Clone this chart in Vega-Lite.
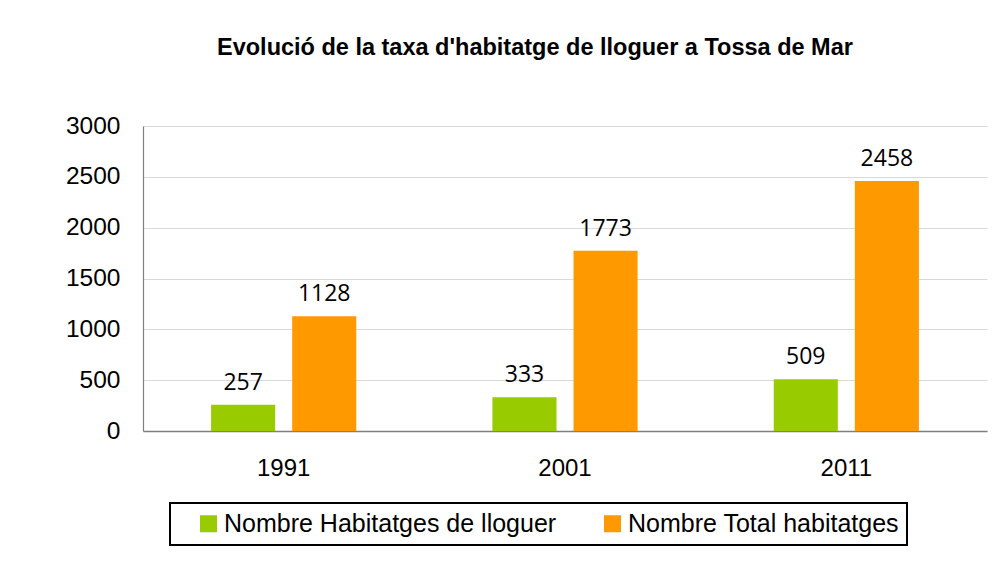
{
  "$schema": "https://vega.github.io/schema/vega-lite/v6.json",
  "autosize": {"type": "none"},
  "padding": {"left": 143, "top": 126, "right": 15, "bottom": 138},
  "width": 844,
  "height": 305,
  "background": "white",
  "title": {
    "text": "Evolució de la taxa d'habitatge de lloguer a Tossa de Mar",
    "font": "Liberation Sans",
    "fontSize": 23.5,
    "fontWeight": "bold",
    "color": "black",
    "anchor": "start",
    "frame": "group",
    "dx": 74,
    "offset": 54
  },
  "config": {
    "view": {"stroke": null},
    "legend": {"strokeColor": "black", "strokeWidth": 2, "fillColor": "white", "padding": 8}
  },
  "data": {
    "values": [
      {"year": "1991", "serie": "Nombre Habitatges de lloguer", "valor": 257},
      {"year": "1991", "serie": "Nombre Total habitatges", "valor": 1128},
      {"year": "2001", "serie": "Nombre Habitatges de lloguer", "valor": 333},
      {"year": "2001", "serie": "Nombre Total habitatges", "valor": 1773},
      {"year": "2011", "serie": "Nombre Habitatges de lloguer", "valor": 509},
      {"year": "2011", "serie": "Nombre Total habitatges", "valor": 2458}
    ]
  },
  "encoding": {
    "x": {
      "field": "year",
      "type": "nominal",
      "scale": {"paddingInner": 0.484, "paddingOuter": 0.242},
      "axis": {
        "title": null,
        "labelAngle": 0,
        "ticks": false,
        "labelPadding": 25,
        "labelFontSize": 24,
        "labelFont": "Liberation Sans",
        "labelColor": "black",
        "domainColor": "#7f7f7f",
        "domainWidth": 1.5
      }
    },
    "xOffset": {
      "field": "serie",
      "type": "nominal",
      "sort": ["Nombre Habitatges de lloguer", "Nombre Total habitatges"],
      "scale": {"paddingInner": 0.21, "paddingOuter": 0}
    },
    "y": {
      "field": "valor",
      "type": "quantitative",
      "scale": {"domain": [0, 3000], "nice": false},
      "axis": {
        "title": null,
        "values": [0, 500, 1000, 1500, 2000, 2500, 3000],
        "format": "d",
        "ticks": false,
        "labelPadding": 23,
        "labelFontSize": 24.5,
        "labelFont": "Liberation Sans",
        "labelColor": "black",
        "grid": true,
        "gridColor": "#d9d9d9",
        "gridWidth": 1.2,
        "domainColor": "#7f7f7f",
        "domainWidth": 1.2
      }
    }
  },
  "layer": [
    {
      "mark": {"type": "bar"},
      "encoding": {
        "color": {
          "field": "serie",
          "type": "nominal",
          "scale": {
            "domain": ["Nombre Habitatges de lloguer", "Nombre Total habitatges"],
            "range": ["#99cc00", "#ff9900"]
          },
          "legend": {
            "title": null,
            "orient": "none",
            "legendX": 27,
            "legendY": 377,
            "direction": "horizontal",
            "symbolType": "square",
            "symbolSize": 289,
            "symbolOffset": 18,
            "symbolStrokeWidth": 0,
            "labelFontSize": 25,
            "labelFont": "Liberation Sans",
            "labelColor": "black",
            "labelOffset": 3,
            "labelLimit": 0,
            "columnPadding": 25
          }
        }
      }
    },
    {
      "mark": {
        "type": "text",
        "baseline": "alphabetic",
        "dy": -15,
        "font": "Open Sans",
        "fontSize": 23,
        "color": "black"
      },
      "encoding": {"text": {"field": "valor", "type": "quantitative"}}
    }
  ]
}
